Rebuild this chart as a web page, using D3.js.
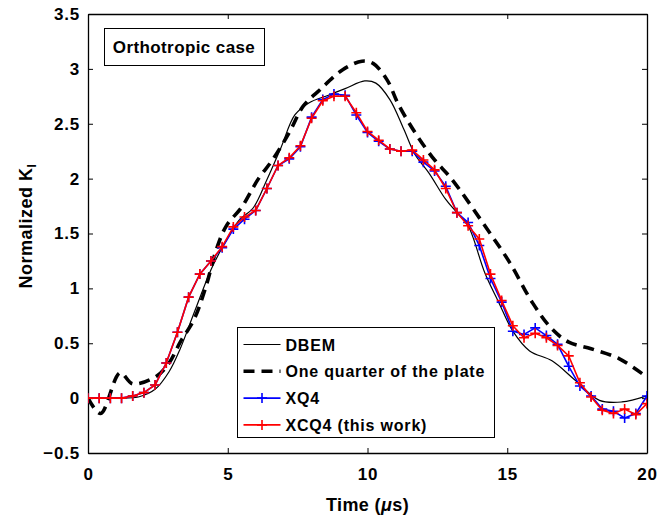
<!DOCTYPE html>
<html>
<head>
<meta charset="utf-8">
<script src="https://cdn.jsdelivr.net/npm/d3@7"></script>
<style>
  body { margin: 0; background: #fff; }
  svg text { font-family: Arial, "Liberation Sans", sans-serif; font-weight: bold; }
</style>
</head>
<body>
<div id="chart"></div>
<script>
// X-FEM samples (every 0.4 us)
const tFem = [0, 0.4, 0.8, 1.2, 1.6, 2.0, 2.4, 2.8, 3.2, 3.6, 4.0, 4.4, 4.8, 5.2, 5.6, 6.0, 6.4,
  6.8, 7.2, 7.6, 8.0, 8.4, 8.8, 9.2, 9.6, 10.0, 10.4, 10.8, 11.2, 11.6, 12.0, 12.4, 12.8,
  13.2, 13.6, 14.0, 14.4, 14.8, 15.2, 15.6, 16.0, 16.4, 16.8, 17.2, 17.6, 18.0, 18.4, 18.8,
  19.2, 19.6, 20.0];
const xcq4 = [0, 0, 0, 0, 0.02, 0.05, 0.12, 0.32, 0.60, 0.92, 1.13, 1.25, 1.38, 1.56, 1.65, 1.71, 1.91,
  2.12, 2.19, 2.30, 2.55, 2.71, 2.75, 2.75, 2.60, 2.43, 2.35, 2.27, 2.25, 2.26, 2.17, 2.08, 1.91,
  1.69, 1.57, 1.45, 1.13, 0.89, 0.66, 0.55, 0.59, 0.55, 0.48, 0.385, 0.14, 0.01, -0.11, -0.14,
  -0.10, -0.15, -0.05];
const xq4 = [0, 0, 0, 0, 0.02, 0.05, 0.12, 0.32, 0.60, 0.92, 1.13, 1.25, 1.37, 1.54, 1.63, 1.71, 1.91,
  2.12, 2.18, 2.29, 2.56, 2.72, 2.77, 2.76, 2.58, 2.42, 2.34, 2.27, 2.25, 2.25, 2.15, 2.07, 1.93,
  1.69, 1.60, 1.39, 1.09, 0.875, 0.61, 0.58, 0.64, 0.57, 0.49, 0.29, 0.11, 0.02, -0.10, -0.12,
  -0.18, -0.14, 0.02];

// DBEM reference
const tDbem = [0, 1.0, 1.8, 2.4, 2.9, 3.3, 3.8, 4.4, 4.8, 5.4, 5.9, 6.4, 6.9, 7.4, 7.9, 8.6, 9.2,
  9.9, 10.3, 10.8, 11.3, 11.7, 12.2, 12.8, 13.2, 13.6, 14.2, 14.7, 15.2, 15.8, 16.6, 17.4, 18.3,
  19.1, 20.0];
const dbem = [0, 0, 0.01, 0.08, 0.24, 0.45, 0.78, 1.17, 1.37, 1.62, 1.73, 1.99, 2.28, 2.58, 2.69,
  2.76, 2.82, 2.89, 2.87, 2.72, 2.45, 2.22, 2.05, 1.81, 1.69, 1.57, 1.14, 0.87, 0.61, 0.43, 0.34,
  0.17, -0.02, -0.035, 0.02];

// One quarter of the plate
const tQuarter = [0, 0.45, 1.15, 1.6, 2.45, 2.9, 3.3, 3.8, 4.2, 4.6, 4.95, 5.5, 6.1, 6.6, 7.2, 7.7,
  8.3, 9.1, 9.8, 10.2, 10.7, 11.1, 11.7, 12.4, 13.0, 14.2, 15.1, 15.9, 16.6, 17.2, 18.0, 19.0, 20.0];
const quarter = [0, -0.14, 0.23, 0.13, 0.2, 0.32, 0.51, 0.72, 1.0, 1.36, 1.57, 1.74, 2.0, 2.17, 2.42,
  2.66, 2.81, 2.99, 3.07, 3.05, 2.9, 2.68, 2.42, 2.17, 2.0, 1.57, 1.23, 0.87, 0.63, 0.51, 0.45,
  0.36, 0.19];

const xTicks = [0, 5, 10, 15, 20];
const yTicks = [-0.5, 0, 0.5, 1, 1.5, 2, 2.5, 3, 3.5];
const legendLabels = ['DBEM', 'One quarter of the plate', 'XQ4', 'XCQ4 (this work)'];

const W = 672, H = 517;
const margin = { top: 14, right: 25, bottom: 64, left: 88 };
const width = W - margin.left - margin.right;
const height = H - margin.top - margin.bottom;

const svg = d3.select('#chart').append('svg')
  .attr('width', W)
  .attr('height', H);

const g = svg.append('g')
  .attr('transform', `translate(${margin.left},${margin.top})`);

const x = d3.scaleLinear().domain([0, 20]).range([0, width]);
const y = d3.scaleLinear().domain([-0.5, 3.5]).range([height, 0]);

// clip
g.append('clipPath').attr('id', 'clip')
  .append('rect').attr('width', width).attr('height', height);

// axes (inward ticks, all four sides)
const axB = g.append('g').attr('transform', `translate(0,${height})`)
  .call(d3.axisBottom(x).tickValues(xTicks).tickSizeInner(-5).tickSizeOuter(0).tickPadding(15));
const axT = g.append('g')
  .call(d3.axisTop(x).tickValues(xTicks).tickSizeInner(-5).tickSizeOuter(0).tickFormat(''));
const axL = g.append('g')
  .call(d3.axisLeft(y).tickValues(yTicks).tickSizeInner(-5).tickSizeOuter(0).tickPadding(8)
    .tickFormat(d3.format('')));
const axR = g.append('g').attr('transform', `translate(${width},0)`)
  .call(d3.axisRight(y).tickValues(yTicks).tickSizeInner(-5).tickSizeOuter(0).tickFormat(''));

[axB, axT, axL, axR].forEach(a => {
  a.select('.domain').attr('stroke', '#000').attr('stroke-width', 1.3);
  a.selectAll('.tick line').attr('stroke', '#000');
  a.selectAll('text').style('font-size', '17px').style('letter-spacing', '0.8px').attr('fill', '#000');
});

// x label
const xl = svg.append('text')
  .attr('x', margin.left + width / 2)
  .attr('y', 511)
  .attr('text-anchor', 'middle')
  .style('font-size', '18px')
  .style('letter-spacing', '0.4px');
xl.append('tspan').text('Time (');
xl.append('tspan').style('font-style', 'italic').text('\u03bc');
xl.append('tspan').text('s)');

// y label
const yl = svg.append('text')
  .attr('transform', 'translate(32,226) rotate(-90)')
  .attr('text-anchor', 'middle')
  .style('font-size', '18px')
  .style('letter-spacing', '0.5px');
yl.append('tspan').text('Normalized K');
yl.append('tspan').attr('dy', 4).style('font-size', '12px').text('I');

const plot = g.append('g').attr('clip-path', 'url(#clip)');

// DBEM
plot.append('path')
  .datum(tDbem.map((t, i) => [t, dbem[i]]))
  .attr('fill', 'none')
  .attr('stroke', '#000')
  .attr('stroke-width', 1.2)
  .attr('d', d3.line().x(d => x(d[0])).y(d => y(d[1])).curve(d3.curveCatmullRom));

// one quarter
plot.append('path')
  .datum(tQuarter.map((t, i) => [t, quarter[i]]))
  .attr('fill', 'none')
  .attr('stroke', '#000')
  .attr('stroke-width', 3.6)
  .attr('stroke-dasharray', '11,7')
  .attr('d', d3.line().x(d => x(d[0])).y(d => y(d[1])).curve(d3.curveCatmullRom));

// X-FEM series with + markers
function femSeries(vals, color) {
  const pts = tFem.map((t, i) => [t, vals[i]]);
  plot.append('path')
    .datum(pts)
    .attr('fill', 'none')
    .attr('stroke', color)
    .attr('stroke-width', 1.6)
    .attr('d', d3.line().x(d => x(d[0])).y(d => y(d[1])));
  plot.append('g').selectAll('path')
    .data(pts)
    .enter()
    .append('path')
    .attr('d', d => `M${x(d[0]) - 5},${y(d[1])}h10M${x(d[0])},${y(d[1]) - 5}v10`)
    .attr('stroke', color)
    .attr('stroke-width', 1.6);
}
femSeries(xq4, '#0000ff');
femSeries(xcq4, '#ff0000');

// title box
const tb = svg.append('g');
tb.append('rect')
  .attr('x', 104.5).attr('y', 28.5).attr('width', 160).attr('height', 37)
  .attr('fill', '#fff').attr('stroke', '#000');
tb.append('text')
  .attr('x', 184).attr('y', 53)
  .attr('text-anchor', 'middle')
  .style('font-size', '17px')
  .style('letter-spacing', '0.4px')
  .text('Orthotropic case');

// legend
const leg = svg.append('g').attr('transform', 'translate(237.5,327.5)');
leg.append('rect')
  .attr('width', 257).attr('height', 110)
  .attr('fill', '#fff').attr('stroke', '#000');

const legStyles = [
  { color: '#000', w: 1.2, dash: null, marker: false },
  { color: '#000', w: 3.6, dash: '11,7', marker: false },
  { color: '#0000ff', w: 1.6, dash: null, marker: true },
  { color: '#ff0000', w: 1.6, dash: null, marker: true }
];

legendLabels.forEach((label, i) => {
  const yy = 17 + i * 26.8;
  const s = legStyles[i];
  leg.append('line')
    .attr('x1', 6).attr('x2', 43).attr('y1', yy).attr('y2', yy)
    .attr('stroke', s.color).attr('stroke-width', s.w)
    .attr('stroke-dasharray', s.dash);
  if (s.marker) {
    leg.append('path')
      .attr('d', `M${24.5 - 5},${yy}h10M24.5,${yy - 5}v10`)
      .attr('stroke', s.color).attr('stroke-width', 1.6);
  }
  leg.append('text')
    .attr('x', 48).attr('y', yy + 6)
    .style('font-size', '16px')
    .style('letter-spacing', '0.8px')
    .text(label);
});
</script>
</body>
</html>
